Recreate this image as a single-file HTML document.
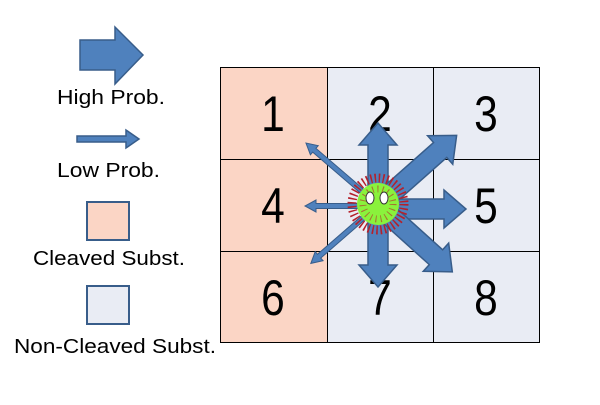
<!DOCTYPE html>
<html><head><style>
html,body{margin:0;padding:0;background:#fff;}
body{width:600px;height:400px;overflow:hidden;}
</style></head><body>
<svg width="600" height="400" viewBox="0 0 600 400" xmlns="http://www.w3.org/2000/svg">
<defs>
<g id="big"><polygon points="0,-10 60,-10 60,-19 82,0 60,19 60,10 0,10" fill="#4f81bd" stroke="#385d8a" stroke-width="1.5"/></g>
</defs>
<!-- legend -->
<polygon points="80,40 115,40 115,27 143,55 115,84 115,70 80,70" fill="#4f81bd" stroke="#385d8a" stroke-width="1.5"/>
<text x="57" y="104" font-family="Liberation Sans, sans-serif" font-size="20" textLength="108" lengthAdjust="spacingAndGlyphs">High Prob.</text>
<polygon points="77,136 126,136 126,130 139,139 126,148 126,142 77,142" fill="#4f81bd" stroke="#385d8a" stroke-width="1.5"/>
<text x="57" y="177" font-family="Liberation Sans, sans-serif" font-size="20" textLength="103" lengthAdjust="spacingAndGlyphs">Low Prob.</text>
<rect x="87" y="202" width="42" height="38" fill="#fbd5c5" stroke="#385d8a" stroke-width="2"/>
<text x="33" y="265" font-family="Liberation Sans, sans-serif" font-size="20" textLength="152" lengthAdjust="spacingAndGlyphs">Cleaved Subst.</text>
<rect x="87" y="286" width="42" height="38" fill="#e9ecf4" stroke="#385d8a" stroke-width="2"/>
<text x="14" y="353" font-family="Liberation Sans, sans-serif" font-size="20" textLength="202" lengthAdjust="spacingAndGlyphs">Non-Cleaved Subst.</text>
<!-- grid -->
<rect x="220" y="67" width="107" height="276" fill="#fbd5c5"/>
<rect x="327" y="67" width="213" height="276" fill="#e9ecf4"/>
<g stroke="#000" stroke-width="1" fill="none">
<rect x="220.5" y="67.5" width="319" height="275"/>
<line x1="327.5" y1="67" x2="327.5" y2="343"/>
<line x1="433.5" y1="67" x2="433.5" y2="343"/>
<line x1="220" y1="159.5" x2="540" y2="159.5"/>
<line x1="220" y1="251.5" x2="540" y2="251.5"/>
</g>
<g font-family="Liberation Sans, sans-serif" font-size="50" text-anchor="middle">
<text x="273" y="131" transform="translate(273 0) scale(0.85 1) translate(-273 0)">1</text>
<text x="380" y="131" transform="translate(380 0) scale(0.85 1) translate(-380 0)">2</text>
<text x="486" y="131" transform="translate(486 0) scale(0.85 1) translate(-486 0)">3</text>
<text x="273" y="223" transform="translate(273 0) scale(0.85 1) translate(-273 0)">4</text>
<text x="486" y="223" transform="translate(486 0) scale(0.85 1) translate(-486 0)">5</text>
<text x="273" y="315" transform="translate(273 0) scale(0.85 1) translate(-273 0)">6</text>
<text x="380" y="315" transform="translate(380 0) scale(0.85 1) translate(-380 0)">7</text>
<text x="486" y="315" transform="translate(486 0) scale(0.85 1) translate(-486 0)">8</text>
</g>
<!-- small arrows -->
<g fill="#4f81bd" stroke="#385d8a" stroke-width="1">
<polygon transform="translate(378 206) rotate(180)" points="0,-2.5 62,-2.5 62,-6 73,0 62,6 62,2.5 0,2.5"/>
<polygon transform="translate(378 205) rotate(220.7)" points="0,-2.5 84,-2.5 84,-6 95,0 84,6 84,2.5 0,2.5"/>
<polygon transform="translate(378 205) rotate(139)" points="0,-2.5 78,-2.5 78,-6 89,0 78,6 78,2.5 0,2.5"/>
</g>
<!-- big arrows -->
<use href="#big" transform="translate(378 205) rotate(-90)"/>
<use href="#big" transform="translate(378 205) rotate(90)"/>
<g transform="translate(378 209)"><polygon points="0,-10 66,-10 66,-19 88,0 66,19 66,10 0,10" fill="#4f81bd" stroke="#385d8a" stroke-width="1.5"/></g>
<g transform="translate(378 205) rotate(-41.5)"><polygon points="0,-10 83,-10 83,-19 105,0 83,19 83,10 0,10" fill="#4f81bd" stroke="#385d8a" stroke-width="1.5"/></g>
<g transform="translate(378 205) rotate(42)"><polygon points="0,-10 78,-10 78,-19 100,0 78,19 78,10 0,10" fill="#4f81bd" stroke="#385d8a" stroke-width="1.5"/></g>
<!-- virus -->
<circle cx="378" cy="204" r="26" fill="none" stroke="#b5202a" stroke-width="9" stroke-dasharray="1.5 2.6"/>
<circle cx="378" cy="204" r="21" fill="#8af23c"/>
<circle cx="378" cy="204" r="15" fill="none" stroke="#b5202a" stroke-width="7" stroke-dasharray="1 4" opacity="0.6"/>
<ellipse cx="370" cy="198" rx="4" ry="6" fill="#fff" stroke="#333" stroke-width="1"/>
<ellipse cx="384" cy="198" rx="4" ry="6" fill="#fff" stroke="#333" stroke-width="1"/>
</svg>
</body></html>
